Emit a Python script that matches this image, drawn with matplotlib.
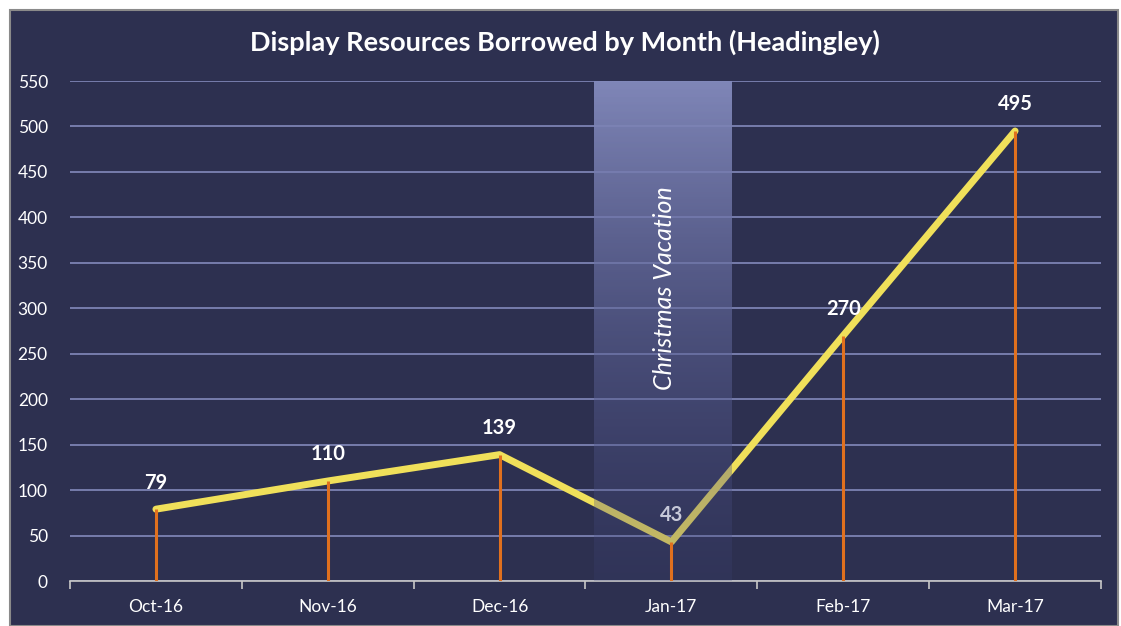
import matplotlib
matplotlib.use("Agg")
import matplotlib.pyplot as plt
from matplotlib.patches import Rectangle
from matplotlib.colors import to_rgb
import numpy as np

months = ["Oct-16", "Nov-16", "Dec-16", "Jan-17", "Feb-17", "Mar-17"]
borrowed = [79, 110, 139, 43, 270, 495]
yticks = [0, 50, 100, 150, 200, 250, 300, 350, 400, 450, 500, 550]
title = "Display Resources Borrowed by Month (Headingley)"
band_label = "Christmas Vacation"

BG = "#2d3050"
GRID = "#7c83b3"
LINE = "#f0e05a"
DROP = "#e0701e"

plt.rcParams['font.family'] = ['Lato', 'DejaVu Sans']

W, H = 1121, 626
fig = plt.figure(figsize=(W/100, H/100), dpi=100)
fig.patch.set_facecolor("white")
panel = Rectangle((10/W, 0), (1118-10)/W, (626-10)/H, transform=fig.transFigure,
                  facecolor=BG, edgecolor="#8a8a8a", linewidth=1.5, zorder=-5)
fig.add_artist(panel)

ax = fig.add_axes([70/W, (626-581)/H, (1101-70)/W, (581-81)/H])
ax.set_zorder(2)
ax.patch.set_alpha(0)
x = np.arange(len(months))

for s in ["top", "right", "left"]:
    ax.spines[s].set_visible(False)
ax.spines["bottom"].set_color("#c8c8c8")
ax.spines["bottom"].set_linewidth(1.2)

ax.set_yticks(yticks)
ax.yaxis.grid(True, color=GRID, linewidth=1.3)
ax.set_axisbelow(True)
ax.tick_params(axis="y", length=0, colors="white", labelsize=12.5, pad=16)
ax.set_xticks(x)
ax.set_xticklabels(months)
ax.tick_params(axis="x", length=0, colors="white", labelsize=12.5, pad=13)
ax.set_xticks(np.arange(-0.5, len(months)), minor=True)
ax.tick_params(axis="x", which="minor", length=6, color="#c8c8c8", width=1.2)

# drops
ax.vlines(x, 0, borrowed, color=DROP, linewidth=2.2, zorder=6)
# line
ax.plot(x, borrowed, color=LINE, linewidth=5, solid_capstyle="round", zorder=4)

# vacation band with vertical gradient, drawn above the line
n = 256
t = np.linspace(1, 0, n)  # 1 at top
top = np.array(to_rgb("#8289bb"))
bot = np.array(to_rgb("#40457a"))
rgba = np.zeros((n, 1, 4))
for i, ti in enumerate(t):
    rgba[i, 0, :3] = bot + (top - bot) * ti
    rgba[i, 0, 3] = 0.2 + 0.78 * ti
ax.imshow(rgba, extent=(2.55, 3.35, 0, 550), aspect="auto", zorder=5, origin="upper",
          interpolation="bilinear")
ax.set_xlim(-0.5, len(months)-0.5)
ax.set_ylim(0, 550)
ax.text(2.96, 322, band_label, rotation=90, ha="center", va="center", color="white",
        fontsize=18, style="italic", zorder=7)

for xi, v in zip(x, borrowed):
    ax.annotate(str(v), (xi, v), xytext=(0, 12), textcoords="offset points",
                ha="center", va="bottom", color="white", fontsize=14.5, fontweight="bold",
                zorder=8 if xi != 3 else 4)

fig.text(565/W, 1 - 42/H, title, ha="center", va="center", color="white",
         fontsize=19.5, fontweight="bold")

fig.savefig("out.png", dpi=100, facecolor=fig.get_facecolor())
